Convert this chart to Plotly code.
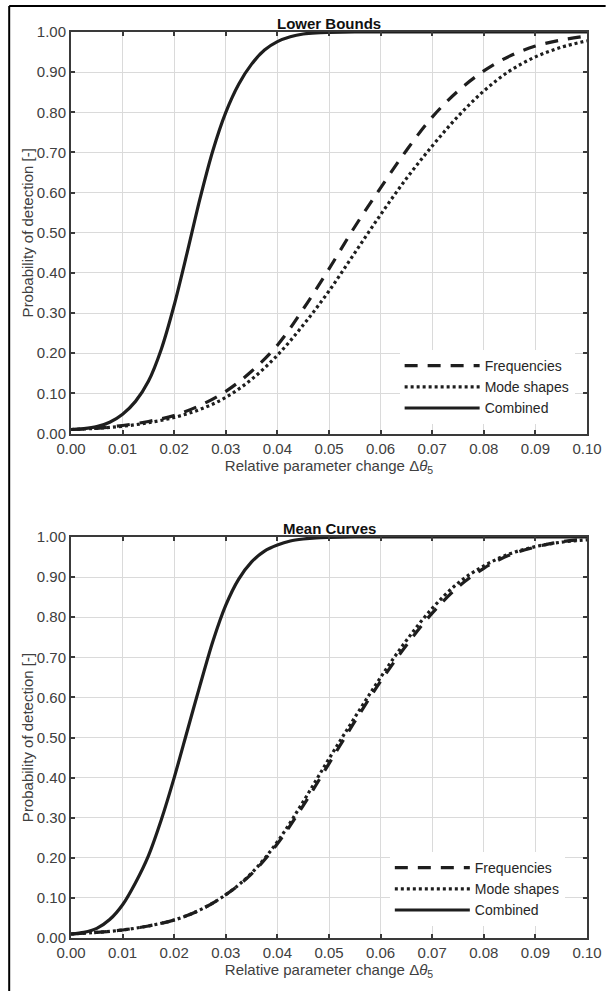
import plotly.graph_objects as go

# ---- data -------------------------------------------------------------
x_comb = [0.0, 0.0025, 0.005, 0.0075, 0.01, 0.0125, 0.015, 0.0175, 0.02, 0.0225,
          0.025, 0.0275, 0.03, 0.0325, 0.035, 0.0375, 0.04, 0.0425, 0.045, 0.0475,
          0.05, 0.055, 0.06, 0.07, 0.08, 0.09, 0.1]
lower_combined = [0.010, 0.012, 0.017, 0.028, 0.048, 0.080, 0.130, 0.210, 0.320, 0.450,
                  0.585, 0.705, 0.800, 0.870, 0.920, 0.955, 0.976, 0.988, 0.995, 0.998,
                  0.999, 1.0, 1.0, 1.0, 1.0, 1.0, 1.0]
mean_combined = [0.010, 0.014, 0.024, 0.046, 0.083, 0.138, 0.205, 0.295, 0.400, 0.515,
                 0.630, 0.740, 0.830, 0.895, 0.938, 0.965, 0.980, 0.990, 0.995, 0.998,
                 0.999, 1.0, 1.0, 1.0, 1.0, 1.0, 1.0]

x_sep = [0.0, 0.005, 0.01, 0.015, 0.02, 0.025, 0.03, 0.035, 0.04, 0.045, 0.05,
         0.055, 0.06, 0.065, 0.07, 0.075, 0.08, 0.085, 0.09, 0.095, 0.1]
lower_freq = [0.010, 0.013, 0.020, 0.030, 0.045, 0.070, 0.105, 0.155, 0.220, 0.310, 0.410,
              0.515, 0.612, 0.705, 0.788, 0.853, 0.903, 0.940, 0.965, 0.980, 0.990]
lower_modes = [0.010, 0.013, 0.018, 0.027, 0.040, 0.060, 0.090, 0.135, 0.195, 0.270, 0.355,
               0.450, 0.545, 0.635, 0.716, 0.790, 0.853, 0.903, 0.938, 0.962, 0.978]
mean_freq = [0.010, 0.014, 0.020, 0.030, 0.045, 0.070, 0.108, 0.160, 0.235, 0.330, 0.435,
             0.540, 0.640, 0.730, 0.810, 0.875, 0.922, 0.955, 0.975, 0.988, 0.995]
mean_modes = [0.010, 0.014, 0.020, 0.030, 0.045, 0.070, 0.108, 0.162, 0.240, 0.340, 0.447,
              0.550, 0.650, 0.742, 0.822, 0.885, 0.928, 0.958, 0.976, 0.987, 0.993]

x_ticks = [0.00, 0.01, 0.02, 0.03, 0.04, 0.05, 0.06, 0.07, 0.08, 0.09, 0.10]
y_ticks = [0.0, 0.1, 0.2, 0.3, 0.4, 0.5, 0.6, 0.7, 0.8, 0.9, 1.0]
panel_titles = ["Lower Bounds", "Mean Curves"]
series_names = ["Frequencies", "Mode shapes", "Combined"]

# ---- styling ----------------------------------------------------------
FONT = "Liberation Sans, Arial, Helvetica, sans-serif"
INK = "#1e1e1e"
AXIS = "#3a3a3a"
GRID = "#dadada"
DASH = "13px,10px"
DOT = "3px,3px"

W, H = 614, 991
L, R, T, B = 71, 17, 32, 53
plot_h = H - T - B
top_dom = [(H - B - 433.5) / plot_h, 1.0]
bot_dom = [0.0, (H - B - 537) / plot_h]

fig = go.Figure()

panels = [
    ("x", "y", "legend", lower_freq, lower_modes, lower_combined),
    ("x2", "y2", "legend2", mean_freq, mean_modes, mean_combined),
]
for xa, ya, lg, f, m, c in panels:
    fig.add_trace(go.Scatter(x=x_sep, y=f, name=series_names[0], mode="lines",
                             line=dict(color=INK, width=3.2, dash=DASH, shape="spline"),
                             xaxis=xa, yaxis=ya, legend=lg))
    fig.add_trace(go.Scatter(x=x_sep, y=m, name=series_names[1], mode="lines",
                             line=dict(color=INK, width=3.2, dash=DOT, shape="spline"),
                             xaxis=xa, yaxis=ya, legend=lg))
    fig.add_trace(go.Scatter(x=x_comb, y=c, name=series_names[2], mode="lines",
                             line=dict(color=INK, width=3.2, shape="spline", smoothing=0.8),
                             xaxis=xa, yaxis=ya, legend=lg))

x_title = "Relative parameter change Δ<i>θ</i><sub>5</sub>"
y_title = "Probability of detection [-]"

axis_common = dict(
    showline=True, linecolor=AXIS, linewidth=2, mirror="ticks",
    ticks="inside", ticklen=4, tickwidth=1.5, tickcolor=AXIS,
    showgrid=True, gridcolor=GRID, gridwidth=1, zeroline=False,
    tickfont=dict(family=FONT, size=15, color="#404040"),
)
xaxis = dict(axis_common, range=[0, 0.1], tickvals=x_ticks, tickformat=".2f",
             title=dict(text=x_title, font=dict(family=FONT, size=15, color="#404040"),
                        standoff=4))
yaxis = dict(axis_common, range=[0, 1], tickvals=y_ticks, tickformat=".2f",
             title=dict(text=y_title, font=dict(family=FONT, size=15, color="#404040"),
                        standoff=0))

legend_common = dict(
    bgcolor="white", borderwidth=0, itemwidth=75,
    font=dict(family=FONT, size=14, color="#262626"),
    xanchor="left", yanchor="top", tracegroupgap=0,
)

fig.update_layout(
    width=W, height=H,
    margin=dict(l=L, r=R, t=T, b=B),
    paper_bgcolor="white", plot_bgcolor="white",
    font=dict(family=FONT, color=INK),
    xaxis=dict(xaxis, domain=[0, 1], anchor="y"),
    yaxis=dict(yaxis, domain=top_dom, anchor="x"),
    xaxis2=dict(xaxis, domain=[0, 1], anchor="y2"),
    yaxis2=dict(yaxis, domain=bot_dom, anchor="x2"),
    legend=dict(legend_common, x=(406 - L) / 526, y=(H - B - 350) / plot_h),
    legend2=dict(legend_common, x=(396 - L) / 526, y=(H - B - 852) / plot_h),
    showlegend=True,
)

# panel titles
for title, dom in zip(panel_titles, [top_dom, bot_dom]):
    fig.add_annotation(text=f"<b>{title}</b>", xref="paper", yref="paper",
                       x=0.5, y=dom[1], xanchor="center", yanchor="bottom",
                       yshift=-2, showarrow=False,
                       font=dict(family=FONT, size=15, color="#111111"))

# outer frame (top and left edges)
px = lambda p: (p - L) / (W - L - R)
py = lambda p: (H - B - p) / plot_h
fig.add_shape(type="line", xref="paper", yref="paper",
              x0=px(8), x1=px(W + 2), y0=py(6), y1=py(6),
              line=dict(color="black", width=2))
fig.add_shape(type="line", xref="paper", yref="paper",
              x0=px(8), x1=px(8), y0=py(6), y1=py(H + 2),
              line=dict(color="black", width=2))

fig.write_html("out.html")
